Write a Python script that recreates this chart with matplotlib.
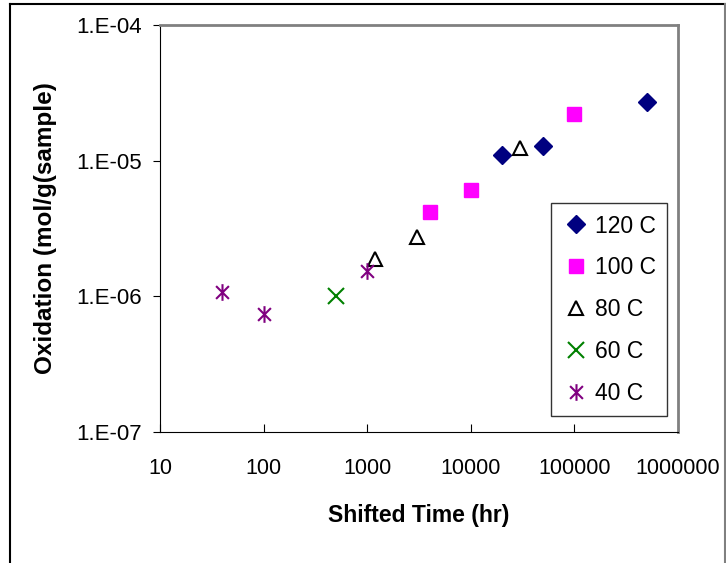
import numpy as np
import matplotlib
matplotlib.use('Agg')
import matplotlib.pyplot as plt
from matplotlib.lines import Line2D
from matplotlib.path import Path
from matplotlib.ticker import FixedLocator, FixedFormatter, NullLocator

plt.rcParams['font.family'] = ['Liberation Sans', 'DejaVu Sans']

# data
t_120 = [20000, 50000, 500000]
ox_120 = [1.1e-5, 1.29e-5, 2.72e-5]
t_100 = [4000, 10000, 100000]
ox_100 = [4.2e-6, 6.1e-6, 2.22e-5]
t_80 = [1200, 3000, 30000]
ox_80 = [1.87e-6, 2.72e-6, 1.25e-5]
t_60 = [500]
ox_60 = [1.0e-6]
t_40 = [40, 100, 1000]
ox_40 = [1.07e-6, 7.4e-7, 1.55e-6]

x_ticks = [10, 100, 1000, 10000, 100000, 1000000]
x_labels = ['10', '100', '1000', '10000', '100000', '1000000']
y_ticks = [1e-7, 1e-6, 1e-5, 1e-4]
y_labels = ['1.E-07', '1.E-06', '1.E-05', '1.E-04']

# Excel style star: x plus vertical bar
star = Path([(-1, -1), (1, 1), (-1, 1), (1, -1), (0, -1.3), (0, 1.3)],
            [Path.MOVETO, Path.LINETO, Path.MOVETO, Path.LINETO, Path.MOVETO, Path.LINETO])

fig = plt.figure(figsize=(7.26, 5.63), dpi=100)
ax = fig.add_axes([160/726, 1-432/563, 518/726, 407/563])

ax.plot(t_120, ox_120, linestyle='none', marker='D', ms=9, color='#000080', label='120 C')
ax.plot(t_100, ox_100, linestyle='none', marker='s', ms=10, color='#FF00FF', label='100 C')
ax.plot(t_80, ox_80, linestyle='none', marker='^', ms=10, mfc='none', mec='black', mew=1.5, label='80 C')
ax.plot(t_60, ox_60, linestyle='none', marker='x', ms=11, color='#008000', mew=1.5, label='60 C')
ax.plot(t_40, ox_40, linestyle='none', marker=star, ms=12, color='#800080', mew=1.5, label='40 C')

ax.set_xscale('log')
ax.set_yscale('log')
ax.set_xlim(10, 1e6)
ax.set_ylim(1e-7, 1e-4)
ax.xaxis.set_major_locator(FixedLocator(x_ticks))
ax.xaxis.set_major_formatter(FixedFormatter(x_labels))
ax.xaxis.set_minor_locator(NullLocator())
ax.yaxis.set_major_locator(FixedLocator(y_ticks))
ax.yaxis.set_major_formatter(FixedFormatter(y_labels))
ax.yaxis.set_minor_locator(NullLocator())
ax.tick_params(axis='x', direction='in', length=6, labelsize=15.5, pad=19)
ax.tick_params(axis='y', direction='out', length=5, labelsize=16, pad=8)

for s in ['top', 'right']:
    ax.spines[s].set_color('#808080')
    ax.spines[s].set_linewidth(2)

ax.set_xlabel('Shifted Time (hr)', fontsize=16.5, fontweight='bold', labelpad=18)
ax.set_ylabel('Oxidation (mol/g(sample)', fontsize=17.5, fontweight='bold', labelpad=14)

leg = ax.legend(loc='lower right', bbox_to_anchor=(0.979, 0.039), borderaxespad=0,
                fontsize=16.5, frameon=True, fancybox=False, labelspacing=0.82,
                handletextpad=0.25, handlelength=1.15, borderpad=0.5)
leg.get_frame().set_edgecolor('black')
leg.get_frame().set_linewidth(1)

# outer chart border
fig.add_artist(Line2D([10/726, 10/726], [0, 1-4/563], color='black', lw=1.5))
fig.add_artist(Line2D([10/726, 725/726], [1-4/563, 1-4/563], color='black', lw=1.5))
fig.add_artist(Line2D([725/726, 725/726], [0, 1-4/563], color='#808080', lw=1.5))

fig.savefig('out.png', dpi=100)
